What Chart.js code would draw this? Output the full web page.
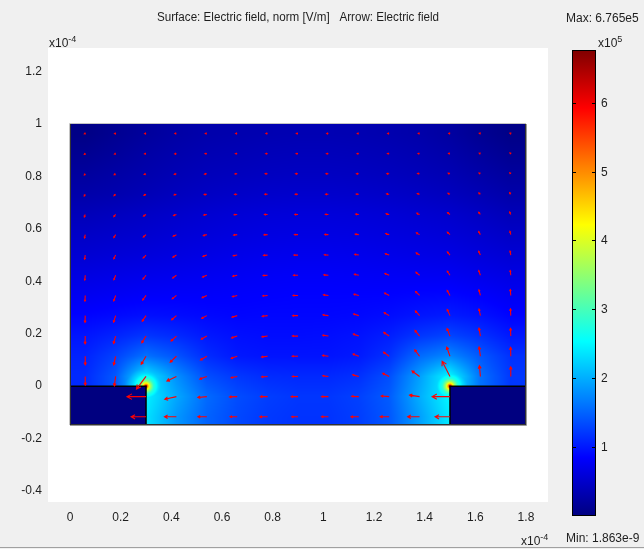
<!DOCTYPE html>
<html>
<head>
<meta charset="utf-8">
<title>Electric field</title>
<script src="https://cdn.jsdelivr.net/npm/chart.js@4.4.1/dist/chart.umd.min.js"></script>
<style>
  html, body { margin: 0; padding: 0; background: #f0f0f0; }
  #wrap { width: 644px; height: 549px; }
</style>
</head>
<body>
<div id="wrap"><canvas id="fieldChart" width="644" height="549"></canvas></div>
<script>
// model geometry and arrow grid, units of 1e-4 m
const domainX = [0, 1.8];
const domainY = [-0.15, 1.0];
const electrodes = [
    { x0: 0, x1: 0.3, y0: -0.15, y1: 0 },
    { x0: 1.5, x1: 1.8, y0: -0.15, y1: 0 }
];
const gridX = [0.06, 0.18, 0.30, 0.42, 0.54, 0.66, 0.78, 0.90, 1.02, 1.14, 1.26, 1.38, 1.50, 1.62, 1.74];
const gridY = [0.964, 0.887, 0.810, 0.732, 0.655, 0.578, 0.500, 0.423, 0.346, 0.269, 0.191, 0.114, 0.037, -0.040, -0.117];

// surface: electric field norm at the grid nodes, units of 1e5 V/m (null = inside electrode)
const normE = [
    [0.04, 0.12, 0.19, 0.25, 0.29, 0.31, 0.33, 0.34, 0.34, 0.33, 0.31, 0.28, 0.22, 0.13, 0.05],
    [0.12, 0.18, 0.25, 0.30, 0.34, 0.36, 0.38, 0.39, 0.39, 0.38, 0.36, 0.33, 0.28, 0.20, 0.12],
    [0.20, 0.25, 0.30, 0.35, 0.39, 0.41, 0.43, 0.44, 0.44, 0.43, 0.41, 0.38, 0.34, 0.27, 0.20],
    [0.28, 0.31, 0.36, 0.41, 0.45, 0.48, 0.50, 0.51, 0.51, 0.50, 0.48, 0.45, 0.41, 0.35, 0.28],
    [0.38, 0.42, 0.46, 0.50, 0.54, 0.57, 0.59, 0.60, 0.60, 0.59, 0.57, 0.54, 0.51, 0.45, 0.38],
    [0.47, 0.50, 0.53, 0.57, 0.60, 0.63, 0.65, 0.66, 0.66, 0.65, 0.63, 0.61, 0.58, 0.53, 0.47],
    [0.55, 0.58, 0.61, 0.64, 0.67, 0.70, 0.72, 0.73, 0.73, 0.72, 0.70, 0.68, 0.66, 0.61, 0.56],
    [0.65, 0.68, 0.71, 0.73, 0.75, 0.77, 0.79, 0.80, 0.80, 0.79, 0.78, 0.77, 0.76, 0.71, 0.66],
    [0.75, 0.78, 0.81, 0.82, 0.82, 0.83, 0.84, 0.85, 0.85, 0.85, 0.85, 0.87, 0.88, 0.83, 0.76],
    [0.86, 0.90, 0.94, 0.92, 0.89, 0.87, 0.88, 0.88, 0.88, 0.89, 0.92, 0.98, 1.02, 0.96, 0.86],
    [0.98, 1.08, 1.20, 1.12, 1.00, 0.94, 0.92, 0.92, 0.93, 0.96, 1.04, 1.20, 1.30, 1.17, 1.00],
    [1.07, 1.28, 1.60, 1.40, 1.13, 1.00, 0.97, 0.97, 0.97, 1.01, 1.16, 1.55, 1.75, 1.43, 1.16],
    [1.12, 1.43, 2.40, 1.80, 1.36, 1.21, 1.13, 1.11, 1.11, 1.16, 1.36, 1.90, 2.50, 1.60, 1.21],
    [null, null, 2.45, 1.96, 1.55, 1.35, 1.25, 1.20, 1.20, 1.27, 1.45, 2.00, 2.50, null, null],
    [null, null, 2.35, 1.85, 1.50, 1.32, 1.22, 1.18, 1.18, 1.25, 1.42, 1.90, 2.40, null, null]
];

// field near the two electrode corners: distance (1e-4 m) -> norm (1e5 V/m)
const tips = [{ x: 0.3, y: 0 }, { x: 1.5, y: 0 }];
const tipR = [0, 0.004, 0.010, 0.018, 0.030, 0.050, 0.080, 0.120];
const tipV = [6.765, 5.5, 4.5, 3.6, 2.8, 2.3, 1.8, 1.2];

// arrows: magnitude (1e5 V/m) and direction (degrees, counter-clockwise from +x)
const arrowLen = [
    [0.15, 0.18, 0.22, 0.25, 0.25, 0.25, 0.27, 0.27, 0.27, 0.25, 0.25, 0.22, 0.20, 0.18, 0.15],
    [0.18, 0.20, 0.25, 0.28, 0.30, 0.30, 0.32, 0.32, 0.32, 0.30, 0.30, 0.27, 0.25, 0.20, 0.18],
    [0.24, 0.27, 0.32, 0.35, 0.38, 0.38, 0.40, 0.40, 0.40, 0.38, 0.38, 0.35, 0.32, 0.27, 0.24],
    [0.33, 0.35, 0.38, 0.40, 0.44, 0.44, 0.46, 0.46, 0.46, 0.44, 0.44, 0.40, 0.38, 0.35, 0.33],
    [0.44, 0.46, 0.50, 0.50, 0.52, 0.52, 0.52, 0.52, 0.52, 0.52, 0.52, 0.50, 0.50, 0.46, 0.44],
    [0.55, 0.57, 0.60, 0.60, 0.60, 0.60, 0.60, 0.60, 0.60, 0.60, 0.60, 0.60, 0.60, 0.57, 0.55],
    [0.66, 0.68, 0.68, 0.68, 0.68, 0.68, 0.68, 0.68, 0.68, 0.68, 0.68, 0.68, 0.68, 0.68, 0.66],
    [0.77, 0.79, 0.79, 0.77, 0.77, 0.75, 0.75, 0.75, 0.75, 0.75, 0.77, 0.77, 0.79, 0.79, 0.77],
    [0.93, 0.93, 0.93, 0.90, 0.86, 0.82, 0.82, 0.82, 0.82, 0.82, 0.86, 0.90, 0.93, 0.93, 0.93],
    [1.10, 1.10, 1.10, 1.04, 0.96, 0.91, 0.90, 0.90, 0.90, 0.91, 0.96, 1.04, 1.10, 1.10, 1.10],
    [1.25, 1.25, 1.30, 1.20, 1.08, 1.00, 0.97, 0.95, 0.95, 0.97, 1.08, 1.20, 1.30, 1.30, 1.25],
    [1.38, 1.42, 1.52, 1.42, 1.22, 1.06, 1.02, 0.97, 0.97, 1.02, 1.16, 1.32, 1.58, 1.52, 1.42],
    [1.40, 1.55, 2.60, 1.75, 1.25, 1.05, 1.00, 0.95, 0.95, 1.05, 1.20, 1.55, 2.80, 1.75, 1.55],
    [null, null, 3.20, 2.00, 1.50, 1.30, 1.20, 1.15, 1.15, 1.20, 1.35, 1.70, 3.00, null, null],
    [null, null, 2.50, 2.00, 1.50, 1.20, 1.30, 1.05, 1.15, 1.30, 1.50, 2.00, 2.50, null, null]
];
const arrowAngle = [
    [200, 190, 185, 182, 180, 180, 180, 180, 180, 180, 180, 178, 175, 170, 160],
    [215, 200, 190, 185, 182, 180, 180, 180, 180, 180, 178, 175, 170, 160, 145],
    [230, 210, 198, 190, 185, 182, 180, 180, 180, 178, 175, 170, 162, 150, 135],
    [240, 220, 205, 195, 188, 184, 181, 180, 179, 176, 172, 165, 155, 140, 125],
    [250, 230, 212, 200, 192, 186, 182, 180, 178, 174, 168, 158, 145, 130, 115],
    [258, 238, 220, 205, 195, 188, 183, 180, 177, 172, 165, 152, 138, 120, 105],
    [262, 243, 225, 210, 198, 190, 184, 180, 176, 170, 160, 147, 130, 115, 100],
    [265, 248, 230, 215, 202, 192, 185, 180, 175, 168, 157, 142, 125, 110, 97],
    [267, 250, 233, 218, 205, 194, 186, 180, 174, 166, 153, 137, 120, 105, 95],
    [268, 252, 235, 220, 207, 196, 187, 180, 173, 163, 150, 133, 115, 102, 93],
    [269, 254, 237, 222, 209, 197, 188, 180, 172, 161, 147, 130, 112, 100, 92],
    [270, 257, 238, 223, 210, 198, 188, 180, 172, 160, 145, 128, 110, 98, 91],
    [270, 262, 232, 205, 200, 192, 185, 180, 174, 166, 155, 145, 118, 95, 90],
    [null, null, 180, 192, 185, 182, 180, 180, 180, 178, 176, 172, 180, null, null],
    [null, null, 180, 180, 180, 180, 180, 180, 180, 180, 180, 180, 180, null, null]
];

const xTicks = [0, 0.2, 0.4, 0.6, 0.8, 1, 1.2, 1.4, 1.6, 1.8];
const xTickLabels = ['0', '0.2', '0.4', '0.6', '0.8', '1', '1.2', '1.4', '1.6', '1.8'];
const yTicks = [-0.4, -0.2, 0, 0.2, 0.4, 0.6, 0.8, 1, 1.2];
const yTickLabels = ['-0.4', '-0.2', '0', '0.2', '0.4', '0.6', '0.8', '1', '1.2'];
const colorMin = 1.863e-14;   // 1.863e-9 V/m in 1e5 V/m
const colorMax = 6.765;
const colorTicks = [1, 2, 3, 4, 5, 6];

const titleText = 'Surface: Electric field, norm [V/m]   Arrow: Electric field';
const FONT = '"Liberation Sans", Arial, sans-serif';
const ARROW_SCALE = 0.0235;   // 1e-4 m of arrow per 1e5 V/m

function clamp(v, a, b) { return Math.max(a, Math.min(b, v)); }

function jet(t) {
    t = clamp(t, 0, 1);
    const f = c => Math.round(255 * clamp(c, 0, 1));
    return [f(1.5 - Math.abs(4 * t - 3)), f(1.5 - Math.abs(4 * t - 2)), f(1.5 - Math.abs(4 * t - 1))];
}

// nodes hidden under the electrodes take the value of the node above them
function filledGrid(grid) {
    const out = grid.map(row => row.slice());
    for (let r = 1; r < out.length; r++)
        for (let c = 0; c < out[r].length; c++)
            if (out[r][c] === null) out[r][c] = out[r - 1][c];
    return out;
}

function sampleGrid(g, x, y) {
    const nC = gridX.length, nR = gridY.length;
    const fc = clamp((x - gridX[0]) / (gridX[1] - gridX[0]), 0, nC - 1);
    const fr = clamp((gridY[0] - y) / ((gridY[0] - gridY[nR - 1]) / (nR - 1)), 0, nR - 1);
    const c0 = Math.min(Math.floor(fc), nC - 2), r0 = Math.min(Math.floor(fr), nR - 2);
    const tx = fc - c0, ty = fr - r0;
    const top = g[r0][c0] * (1 - tx) + g[r0][c0 + 1] * tx;
    const bot = g[r0 + 1][c0] * (1 - tx) + g[r0 + 1][c0 + 1] * tx;
    return top * (1 - ty) + bot * ty;
}

function tipValue(d) {
    const n = tipR.length;
    if (d >= tipR[n - 1]) return 0;
    for (let i = 0; i < n - 1; i++) {
        if (d < tipR[i + 1]) {
            const t = (d - tipR[i]) / (tipR[i + 1] - tipR[i]);
            return tipV[i] + (tipV[i + 1] - tipV[i]) * t;
        }
    }
    return 0;
}

const arrowPoints = [];
gridY.forEach((gy, r) => {
    gridX.forEach((gx, c) => {
        if (arrowLen[r][c] === null) return;
        const a = arrowAngle[r][c] * Math.PI / 180;
        arrowPoints.push({ x: gx, y: gy, u: arrowLen[r][c] * Math.cos(a), v: arrowLen[r][c] * Math.sin(a) });
    });
});

const backgroundPlugin = {
    id: 'background',
    beforeDraw(chart) {
        const { ctx, chartArea: a } = chart;
        ctx.save();
        ctx.fillStyle = '#f0f0f0';
        ctx.fillRect(0, 0, chart.width, chart.height);
        ctx.fillStyle = '#ffffff';
        ctx.fillRect(a.left, a.top, a.right - a.left, a.bottom - a.top);
        ctx.strokeStyle = '#a0a0a0';
        ctx.beginPath();
        ctx.moveTo(0, chart.height - 1.5);
        ctx.lineTo(chart.width, chart.height - 1.5);
        ctx.stroke();
        ctx.restore();
    }
};

const surfacePlugin = {
    id: 'surface',
    beforeDatasetsDraw(chart) {
        const { ctx, scales: { x: xs, y: ys } } = chart;
        const left = Math.round(xs.getPixelForValue(domainX[0]));
        const right = Math.round(xs.getPixelForValue(domainX[1]));
        const top = Math.round(ys.getPixelForValue(domainY[1]));
        const bottom = Math.round(ys.getPixelForValue(domainY[0]));
        const w = right - left, h = bottom - top;
        const pxPerUnit = xs.getPixelForValue(1) - xs.getPixelForValue(0);
        const tipPx = tips.map(t => ({ x: xs.getPixelForValue(t.x), y: ys.getPixelForValue(t.y) }));
        const g = filledGrid(normE);

        const off = document.createElement('canvas');
        off.width = w;
        off.height = h;
        const octx = off.getContext('2d');
        const img = octx.createImageData(w, h);
        for (let j = 0; j < h; j++) {
            const py = top + j + 0.5;
            const yv = ys.getValueForPixel(py);
            for (let i = 0; i < w; i++) {
                const px = left + i + 0.5;
                let v = sampleGrid(g, xs.getValueForPixel(px), yv);
                tipPx.forEach(t => {
                    const d = Math.hypot(px - t.x, py - t.y) / pxPerUnit;
                    v = Math.max(v, tipValue(d));
                });
                const col = jet((v - colorMin) / (colorMax - colorMin));
                const k = (j * w + i) * 4;
                img.data[k] = col[0];
                img.data[k + 1] = col[1];
                img.data[k + 2] = col[2];
                img.data[k + 3] = 255;
            }
        }
        octx.putImageData(img, 0, 0);
        ctx.save();
        ctx.drawImage(off, left, top);

        // electrodes (field is zero inside)
        const c0 = jet(0);
        electrodes.forEach(e => {
            const x0 = xs.getPixelForValue(e.x0), x1 = xs.getPixelForValue(e.x1);
            const y0 = ys.getPixelForValue(e.y0), y1 = ys.getPixelForValue(e.y1);
            ctx.fillStyle = `rgb(${c0[0]},${c0[1]},${c0[2]})`;
            ctx.fillRect(x0, y1, x1 - x0, y0 - y1);
        });
        ctx.strokeStyle = '#000000';
        ctx.lineWidth = 1.5;
        ctx.beginPath();
        const yTop = ys.getPixelForValue(0), yBot = ys.getPixelForValue(domainY[0]);
        ctx.moveTo(xs.getPixelForValue(electrodes[0].x0), yTop);
        ctx.lineTo(xs.getPixelForValue(electrodes[0].x1), yTop);
        ctx.lineTo(xs.getPixelForValue(electrodes[0].x1), yBot);
        ctx.moveTo(xs.getPixelForValue(electrodes[1].x1), yTop);
        ctx.lineTo(xs.getPixelForValue(electrodes[1].x0), yTop);
        ctx.lineTo(xs.getPixelForValue(electrodes[1].x0), yBot);
        ctx.stroke();

        // domain outline, light top-left and dark bottom-right
        ctx.lineWidth = 1;
        ctx.strokeStyle = '#c4c4c4';
        ctx.beginPath();
        ctx.moveTo(left - 0.5, bottom);
        ctx.lineTo(left - 0.5, top - 0.5);
        ctx.lineTo(right, top - 0.5);
        ctx.stroke();
        ctx.strokeStyle = '#333333';
        ctx.beginPath();
        ctx.moveTo(left + 0.5, top);
        ctx.lineTo(left + 0.5, bottom - 0.5);
        ctx.lineTo(right - 0.5, bottom - 0.5);
        ctx.lineTo(right - 0.5, top);
        ctx.stroke();
        ctx.strokeStyle = '#9a9a9a';
        ctx.beginPath();
        ctx.moveTo(right + 0.5, top);
        ctx.lineTo(right + 0.5, bottom + 0.5);
        ctx.lineTo(left, bottom + 0.5);
        ctx.stroke();
        ctx.restore();
    },
    afterDatasetsDraw(chart) {
        const { ctx, scales: { x: xs, y: ys } } = chart;
        ctx.save();
        ctx.strokeStyle = '#ff0000';
        ctx.lineWidth = 1.1;
        chart.data.datasets[0].data.forEach(p => {
            const x0 = xs.getPixelForValue(p.x), y0 = ys.getPixelForValue(p.y);
            const x1 = xs.getPixelForValue(p.x + p.u * ARROW_SCALE);
            const y1 = ys.getPixelForValue(p.y + p.v * ARROW_SCALE);
            const L = Math.hypot(x1 - x0, y1 - y0);
            if (L < 0.5) return;
            const ang = Math.atan2(y1 - y0, x1 - x0);
            const hl = Math.max(1.5, L * 0.3);
            ctx.beginPath();
            ctx.moveTo(x0, y0);
            ctx.lineTo(x1, y1);
            ctx.moveTo(x1 - hl * Math.cos(ang - 0.5), y1 - hl * Math.sin(ang - 0.5));
            ctx.lineTo(x1, y1);
            ctx.lineTo(x1 - hl * Math.cos(ang + 0.5), y1 - hl * Math.sin(ang + 0.5));
            ctx.stroke();
        });
        ctx.restore();
    }
};

function drawX10(ctx, x, y, exp) {
    ctx.textAlign = 'left';
    ctx.textBaseline = 'alphabetic';
    ctx.font = '12px ' + FONT;
    ctx.fillText('x10', x, y);
    const w = ctx.measureText('x10').width;
    ctx.font = '9px ' + FONT;
    ctx.fillText(exp, x + w, y - 5);
}

const labelPlugin = {
    id: 'labels',
    afterDraw(chart) {
        const { ctx } = chart;
        ctx.save();
        ctx.fillStyle = '#1e1e1e';
        ctx.font = '12px ' + FONT;
        ctx.textAlign = 'center';
        ctx.textBaseline = 'alphabetic';
        ctx.fillText(titleText, 298, 21, 282);

        drawX10(ctx, 49, 47, '-4');
        drawX10(ctx, 521, 545, '-4');

        // colour bar
        const bx = 572, bw = 24, bTop = 50, bBot = 516;
        const yFor = v => bBot - (v - colorMin) / (colorMax - colorMin) * (bBot - bTop);
        const grad = ctx.createLinearGradient(0, bBot, 0, bTop);
        for (let i = 0; i <= 64; i++) {
            const c = jet(i / 64);
            grad.addColorStop(i / 64, `rgb(${c[0]},${c[1]},${c[2]})`);
        }
        ctx.fillStyle = grad;
        ctx.fillRect(bx, bTop, bw, bBot - bTop);
        ctx.strokeStyle = '#000000';
        ctx.lineWidth = 1;
        ctx.strokeRect(bx + 0.5, bTop + 0.5, bw - 1, bBot - bTop - 1);
        ctx.fillStyle = '#1e1e1e';
        ctx.font = '12px ' + FONT;
        ctx.textAlign = 'left';
        ctx.textBaseline = 'middle';
        colorTicks.forEach(v => {
            const y = Math.round(yFor(v)) + 0.5;
            ctx.beginPath();
            ctx.moveTo(bx, y);
            ctx.lineTo(bx + 4, y);
            ctx.moveTo(bx + bw - 4, y);
            ctx.lineTo(bx + bw, y);
            ctx.stroke();
            ctx.fillText(String(v), bx + bw + 5, y);
        });
        ctx.textBaseline = 'alphabetic';
        ctx.fillText('Max: ' + colorMax.toFixed(3) + 'e5', 566, 22);
        ctx.fillText('Min: 1.863e-9', 566, 542);
        drawX10(ctx, 598, 47, '5');
        ctx.restore();
    }
};

const tickFont = { family: FONT, size: 12 };

new Chart(document.getElementById('fieldChart'), {
    type: 'scatter',
    data: {
        datasets: [{
            label: 'Electric field',
            data: arrowPoints,
            pointRadius: 0,
            pointHoverRadius: 0
        }]
    },
    options: {
        responsive: false,
        animation: false,
        events: [],
        layout: { padding: { left: 0, top: 48, right: 96, bottom: 0 } },
        plugins: {
            legend: { display: false },
            tooltip: { enabled: false }
        },
        scales: {
            x: {
                type: 'linear',
                min: -0.087,
                max: 1.887,
                grid: { display: false, drawTicks: false },
                border: { display: false },
                afterFit(s) { s.height = 47; },
                afterBuildTicks(s) { s.ticks = xTicks.map(v => ({ value: v })); },
                ticks: {
                    callback: (v, i) => xTickLabels[i],
                    color: '#1e1e1e',
                    font: tickFont,
                    padding: 8,
                    maxRotation: 0,
                    autoSkip: false
                }
            },
            y: {
                type: 'linear',
                min: -0.442,
                max: 1.29,
                grid: { display: false, drawTicks: false },
                border: { display: false },
                afterFit(s) { s.width = 48; },
                afterBuildTicks(s) { s.ticks = yTicks.map(v => ({ value: v })); },
                ticks: {
                    callback: (v, i) => yTickLabels[i],
                    color: '#1e1e1e',
                    font: tickFont,
                    padding: 6,
                    autoSkip: false
                }
            }
        }
    },
    plugins: [backgroundPlugin, surfacePlugin, labelPlugin]
});
</script>
</body>
</html>
